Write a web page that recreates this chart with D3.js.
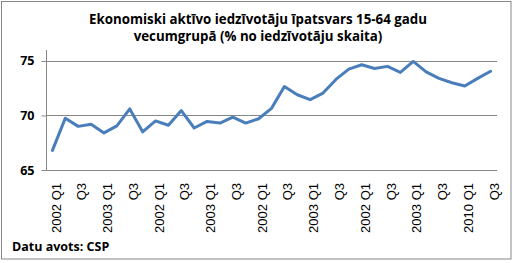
<!DOCTYPE html>
<html>
<head>
<meta charset="utf-8">
<script src="https://cdn.jsdelivr.net/npm/d3@7"></script>
<style>
  html, body { margin: 0; padding: 0; background: #fff; }
  svg { display: block; }
</style>
</head>
<body>
<div id="chart"></div>
<script>
const titleLines = ["Ekonomiski aktīvo iedzīvotāju īpatsvars 15-64 gadu", "vecumgrupā (% no iedzīvotāju skaita)"];
const sourceText = "Datu avots: CSP";
const categories = [
  "2002 Q1","2002 Q2","2002 Q3","2002 Q4",
  "2003 Q1","2003 Q2","2003 Q3","2003 Q4",
  "2004 Q1","2004 Q2","2004 Q3","2004 Q4",
  "2005 Q1","2005 Q2","2005 Q3","2005 Q4",
  "2006 Q1","2006 Q2","2006 Q3","2006 Q4",
  "2007 Q1","2007 Q2","2007 Q3","2007 Q4",
  "2008 Q1","2008 Q2","2008 Q3","2008 Q4",
  "2009 Q1","2009 Q2","2009 Q3","2009 Q4",
  "2010 Q1","2010 Q2","2010 Q3"
];
// Tick labels exactly as shown on the original chart (every second quarter)
const tickLabels = [
  "2002 Q1","Q3","2003 Q1","Q3","2002 Q1","Q3","2003 Q1","Q3",
  "2002 Q1","Q3","2003 Q1","Q3","2002 Q1","Q3","2003 Q1","Q3",
  "2010 Q1","Q3"
];
const values = [
  66.8, 69.75, 69.0, 69.2, 68.4, 69.05, 70.6, 68.5,
  69.5, 69.1, 70.45, 68.85, 69.45, 69.3, 69.85, 69.3,
  69.7, 70.65, 72.65, 71.9, 71.45, 72.05, 73.3, 74.25,
  74.65, 74.3, 74.5, 73.95, 74.95, 74.0, 73.4, 73.0,
  72.7, 73.4, 74.05
];
const yTicks = [65, 70, 75];

const W = 514, H = 263;
const svg = d3.select("#chart").append("svg").attr("width", W).attr("height", H);

// outer chart border
svg.append("rect").attr("x", 1.5).attr("y", 1.5).attr("width", 509.5).attr("height", 257.5)
  .attr("fill", "#fff").attr("stroke", "#868686").attr("stroke-width", 1);

const plot = {left: 46, right: 497, top: 50, bottom: 170};

const x = d3.scaleBand().domain(categories).range([plot.left, plot.right]).padding(0);
const y = d3.scaleLinear().domain([65, 76]).range([plot.bottom, plot.top]);
const cx = d => x(d) + x.bandwidth() / 2;

// gridlines
svg.append("g").selectAll("line").data(yTicks).join("line")
  .attr("x1", plot.left).attr("x2", plot.right)
  .attr("y1", d => Math.round(y(d)) + 0.5).attr("y2", d => Math.round(y(d)) + 0.5)
  .attr("stroke", "#868686").attr("stroke-width", 1);

// y axis
const yAxis = d3.axisLeft(y).tickValues(yTicks).tickSize(5).tickPadding(7).tickFormat(d3.format("d"));
const gy = svg.append("g").attr("transform", `translate(${plot.left + 0.5},0)`).call(yAxis);
gy.select(".domain").attr("stroke", "#868686").attr("d", `M-0,${plot.top}V${plot.bottom}`);
gy.selectAll(".tick line").attr("stroke", "#868686");
gy.selectAll(".tick text").attr("fill", "#000")
  .style("font-family", "'Open Sans', sans-serif").style("font-weight", "bold").style("font-size", "12.5px");

// x axis labels (every second category)
const labelCats = categories.filter((c, i) => i % 2 === 0);
const xAxis = d3.axisBottom(x).tickValues(labelCats).tickSize(0)
  .tickFormat((d, i) => tickLabels[i]);
const gx = svg.append("g").attr("transform", `translate(0,${plot.bottom})`).call(xAxis);
gx.select(".domain").remove();
gx.selectAll(".tick text")
  .attr("fill", "#000")
  .style("font-family", "'Liberation Sans', Arial, sans-serif").style("font-size", "13px")
  .attr("text-anchor", "end")
  .attr("transform", "rotate(-90)")
  .attr("x", -13).attr("y", 0).attr("dy", "0.62em");

// line
const line = d3.line().x((d, i) => cx(categories[i])).y(d => y(d));
svg.append("path").datum(values).attr("d", line)
  .attr("fill", "none").attr("stroke", "#4a7ebb").attr("stroke-width", 3)
  .attr("stroke-linejoin", "round").attr("stroke-linecap", "round");

// title
svg.append("g").selectAll("text").data(titleLines).join("text")
  .attr("x", 258).attr("y", (d, i) => 24 + i * 17)
  .attr("text-anchor", "middle")
  .style("font-family", "'Open Sans', sans-serif").style("font-weight", "bold").style("font-size", "13.3px")
  .attr("fill", "#000")
  .text(d => d);

// source
svg.append("text").attr("x", 12).attr("y", 251)
  .style("font-family", "'Open Sans', sans-serif").style("font-weight", "bold").style("font-size", "12.5px")
  .attr("fill", "#000").text(sourceText);
</script>
</body>
</html>
